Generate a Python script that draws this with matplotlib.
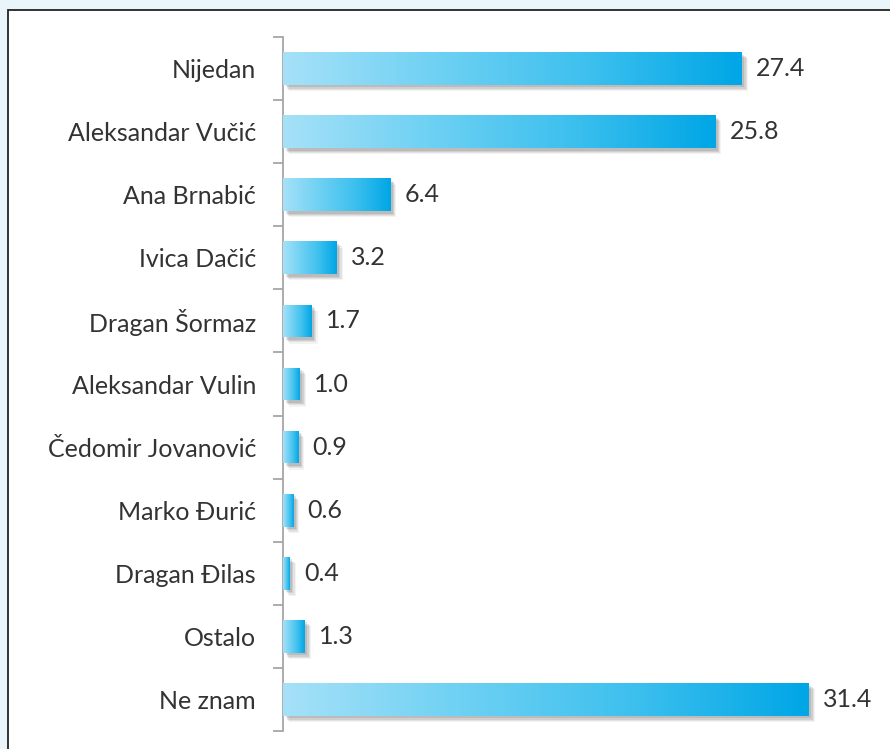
import numpy as np
import matplotlib
matplotlib.use("Agg")
import matplotlib.pyplot as plt
from matplotlib.patches import Rectangle
from matplotlib.colors import LinearSegmentedColormap
import matplotlib.transforms as mtransforms

categories = ["Nijedan", "Aleksandar Vučić", "Ana Brnabić", "Ivica Dačić", "Dragan Šormaz",
              "Aleksandar Vulin", "Čedomir Jovanović", "Marko Đurić", "Dragan Đilas", "Ostalo", "Ne znam"]
values = [27.4, 25.8, 6.4, 3.2, 1.7, 1.0, 0.9, 0.6, 0.4, 1.3, 31.4]
value_labels = ["27.4", "25.8", "6.4", "3.2", "1.7", "1.0", "0.9", "0.6", "0.4", "1.3", "31.4"]

plt.rcParams['font.family'] = ['Lato', 'DejaVu Sans']

W, H = 890, 749
fig = plt.figure(figsize=(W / 100, H / 100), dpi=100)
fig.patch.set_facecolor("#eaf4fb")

# white panel with dark border on top/left
panel = Rectangle((8 / W, -0.1), 1.2, (H - 10) / H + 0.1, transform=fig.transFigure,
                  facecolor="white", edgecolor="#222222", linewidth=1.3, zorder=0)
fig.add_artist(panel)

ax = fig.add_axes([283 / W, 18 / H, (W - 283) / W, 694 / H])
ax.set_facecolor("none")
n = len(categories)
ypos = np.arange(n)
bar_h = 0.52

cmap = LinearSegmentedColormap.from_list("g", ["#a6e1f8", "#6fd1f3", "#3dc0ee", "#00a6e6"])
grad = np.linspace(0, 1, 256).reshape(1, -1)

bars = ax.barh(ypos, values, height=bar_h, color="none", edgecolor="none", zorder=3)
for b, v, lbl in zip(bars, values, value_labels):
    x0, y0 = b.get_x(), b.get_y()
    w, h = b.get_width(), b.get_height()
    # shadow
    for k, a in [(5, 0.07), (4, 0.1), (3, 0.13), (2, 0.16)]:
        tr = mtransforms.offset_copy(ax.transData, fig=fig, x=k * 0.9, y=-k * 0.9, units="points")
        s = Rectangle((x0, y0), w, h, transform=tr, facecolor="#555555", alpha=a,
                      edgecolor="none", zorder=2)
        ax.add_patch(s)
    im = ax.imshow(grad, extent=[x0, x0 + w, y0 + h, y0], aspect="auto", cmap=cmap,
                   zorder=3, interpolation="bicubic")
    im.set_clip_path(b)
    ax.text(v + 0.85, b.get_y() + h / 2, lbl, va="center", ha="left", fontsize=18,
            color="#333333", zorder=4)

ax.set_ylim(n - 0.5, -0.5)
ax.set_xlim(0, (W - 283) / 16.75)

for s in ["top", "right", "bottom"]:
    ax.spines[s].set_visible(False)
ax.spines["left"].set_color("#a6a6a6")
ax.spines["left"].set_linewidth(1.3)
ax.set_xticks([])
ax.set_yticks(ypos)
ax.set_yticklabels(categories, fontsize=18, color="#333333")
ax.tick_params(axis="y", which="major", length=0, pad=19.5)
ax.set_yticks(np.arange(-0.5, n, 1.0), minor=True)
ax.tick_params(axis="y", which="minor", length=7, width=1.3, color="#a6a6a6", direction="out")

fig.savefig("out.png", dpi=100)
